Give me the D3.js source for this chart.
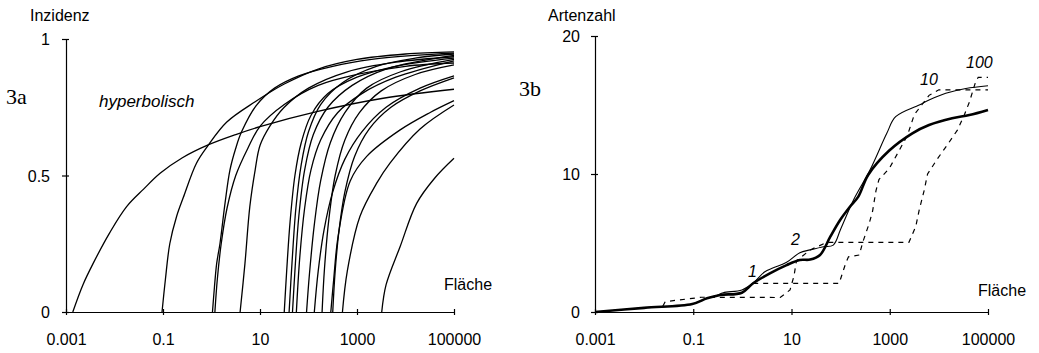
<!DOCTYPE html>
<html><head><meta charset="utf-8">
<script src="https://cdn.jsdelivr.net/npm/d3@7"></script>
<style>
html,body{margin:0;padding:0;background:#fff;}
svg{display:block;}
text{font-family:"Liberation Sans",Arial,sans-serif;fill:#000;}
</style></head>
<body>
<svg id="chart" width="1039" height="353"></svg>
<script>
// ---- Data (Fläche given as log10 exponent, converted to area for the log scale) ----
const xTickValues = [0.001, 0.1, 10, 1000, 100000];
const xTickLabels = ["0.001", "0.1", "10", "1000", "100000"];
const yTicksA = [0, 0.5, 1];
const yTickLabelsA = ["0", "0.5", "1"];
const yTicksB = [0, 10, 20];
const yTickLabelsB = ["0", "10", "20"];

// Panel 3a: incidence curves [log10(Fläche), Inzidenz]
const kurveHyperbolisch = [[-2.86,0],[-2.65,0.1],[-2.44,0.178],[-2.1,0.29],[-1.75,0.386],[-1.4,0.45],[-1.06,0.508],[-0.6,0.565],[-0.07,0.612],[0.5,0.65],[1.0,0.679],[2.17,0.734],[3.54,0.783],[5,0.816]];
const kurveB = [[-1.02,0],[-0.95,0.12],[-0.86,0.25],[-0.72,0.35],[-0.58,0.42],[-0.31,0.545],[-0.07,0.61],[0.31,0.695],[0.9,0.77],[1.5,0.835],[2.2,0.89],[3.0,0.925],[4.0,0.945],[5,0.953]];
const kurveC = [[0.02,0],[0.06,0.09],[0.107,0.178],[0.175,0.251],[0.28,0.4],[0.38,0.52],[0.5,0.6],[0.62,0.66],[0.93,0.758],[1.3,0.82],[1.8,0.865],[2.5,0.9],[3.3,0.925],[4.2,0.94],[5,0.948]];
const kurveD = [[0.07,0],[0.12,0.12],[0.2,0.25],[0.32,0.38],[0.5,0.5],[0.75,0.6],[1.0,0.68],[1.5,0.76],[2.2,0.83],[3,0.87],[4,0.9],[5,0.912]];
const kurveE = [[0.59,0],[0.69,0.178],[0.79,0.386],[0.9,0.52],[1.0,0.61],[1.2,0.68],[1.5,0.75],[2,0.82],[2.8,0.88],[3.8,0.915],[5,0.935]];
const kurveF = [[1.5,0],[1.55,0.15],[1.62,0.33],[1.72,0.5],[1.85,0.62],[2.05,0.72],[2.4,0.8],[3,0.86],[3.8,0.9],[5,0.93]];
const kurveG = [[1.6,0],[1.66,0.18],[1.74,0.38],[1.85,0.54],[2.0,0.66],[2.25,0.76],[2.7,0.84],[3.4,0.9],[4.2,0.93],[5,0.945]];
const kurveH = [[1.67,0],[1.72,0.15],[1.8,0.35],[1.92,0.52],[2.1,0.65],[2.4,0.75],[2.9,0.83],[3.6,0.89],[5,0.94]];
const kurveI = [[1.75,0],[1.82,0.2],[1.92,0.38],[2.05,0.52],[2.25,0.63],[2.6,0.73],[3.1,0.8],[3.8,0.86],[5,0.92]];
const kurveJ = [[1.96,0],[2.02,0.14],[2.12,0.32],[2.25,0.48],[2.45,0.62],[2.75,0.73],[3.2,0.82],[3.9,0.88],[5,0.925]];
const kurveK = [[2.12,0],[2.2,0.15],[2.32,0.3],[2.5,0.44],[2.75,0.56],[3.1,0.66],[3.6,0.75],[4.3,0.82],[5,0.865]];
const kurveL = [[2.28,0],[2.33,0.16],[2.42,0.34],[2.55,0.5],[2.75,0.63],[3.05,0.73],[3.5,0.81],[4.2,0.87],[5,0.905]];
const kurveM = [[2.5,0],[2.55,0.15],[2.63,0.3],[2.75,0.44],[2.95,0.57],[3.25,0.67],[3.7,0.75],[4.3,0.81],[5,0.858]];
const kurveN = [[2.46,0],[2.52,0.12],[2.61,0.276],[2.86,0.48],[3.2,0.57],[3.89,0.667],[4.5,0.73],[5,0.774]];
const kurveO = [[2.70,0],[2.8,0.15],[3.06,0.35],[3.4,0.47],[3.68,0.545],[4.3,0.67],[5,0.758]];
const kurveP = [[3.51,0],[3.6,0.1],[3.89,0.24],[4.23,0.398],[4.6,0.49],[5,0.563]];

// Panel 3b: species number [log10(Fläche), Artenzahl]
const artenDick = [[-3,0],[-2,0.3],[-1.02,0.58],[-0.72,0.99],[-0.45,1.23],[-0.01,1.4],[0.22,2.08],[0.56,2.8],[0.9,3.4],[1.17,3.77],[1.38,3.8],[1.58,4.13],[1.79,5.46],[1.99,6.67],[2.19,7.63],[2.36,8.36],[2.56,9.93],[2.99,11.7],[3.46,12.95],[3.8,13.55],[4.27,14.04],[4.62,14.27],[5,14.64]];
const artenDuenn = [[-3,0],[-2,0.3],[-1.02,0.58],[-0.72,1.0],[-0.52,1.2],[-0.39,1.4],[-0.01,1.6],[0.22,2.1],[0.45,2.9],[0.63,3.2],[0.9,3.6],[1.17,4.3],[1.38,4.5],[1.65,4.73],[1.85,4.85],[2.0,6.0],[2.26,8.1],[2.6,10.3],[2.94,12.95],[3.12,14.15],[3.6,15.0],[3.8,15.36],[4.14,15.85],[4.55,16.2],[5,16.4]];
const artenStufe100 = [[-1.62,0.42],[-1.57,0.75],[-0.83,1.07],[0.77,1.05],[0.97,1.6],[1.05,2.6],[1.1,3.7],[1.38,4.5],[1.72,5.05],[3.39,5.05],[3.53,6.2],[3.6,7.4],[3.7,8.8],[3.77,10],[3.97,11.1],[4.17,12.1],[4.38,13.2],[4.52,14.3],[4.62,15.2],[4.75,16.7],[4.8,17.0],[5.0,17.0]];
const artenStufe10 = [[0.22,2.08],[0.29,2.08],[1.97,2.08],[2.1,3.5],[2.16,4.0],[2.38,4.13],[2.45,5.05],[2.58,6.4],[2.65,7.3],[2.72,8.8],[2.78,9.6],[2.99,10.4],[3.16,11.5],[3.36,12.8],[3.5,14.3],[3.65,15.0],[3.8,15.7],[4.0,16.1],[4.5,16.1],[5.0,16.1]];
const kurvenLabels = [["1",748,277],["2",791,245],["10",920,85],["100",966,68]];

// ---- Drawing ----
const svg = d3.select("#chart");
const toArea = p => [Math.pow(10, p[0]), p[1]];

function panel(opt){
  const x = d3.scaleLog().domain([0.001, 100000]).range([opt.x0, opt.x1]);
  const y = d3.scaleLinear().domain(opt.yDomain).range([312, opt.yTop]);
  const g = svg.append("g");
  const ax = g.append("g").attr("transform","translate(0,312)")
    .call(d3.axisBottom(x).tickValues(xTickValues).tickFormat((d,i)=>xTickLabels[i]).tickSizeInner(3).tickSizeOuter(0));
  ax.select(".domain").attr("stroke","#000").attr("stroke-width",1.2);
  ax.selectAll(".tick line").attr("y1",-3).attr("stroke","#000").attr("stroke-width",1.2);
  ax.selectAll(".tick text").attr("y",33).attr("dy",0).attr("font-size",16).attr("font-family","Liberation Sans, Arial, sans-serif");
  const ay = g.append("g").attr("transform",`translate(${opt.x0},0)`)
    .call(d3.axisLeft(y).tickValues(opt.yTicks).tickFormat((d,i)=>opt.yLabels[i]).tickSizeInner(4).tickSizeOuter(0));
  ay.select(".domain").attr("stroke","#000").attr("stroke-width",1.2);
  ay.selectAll(".tick line").attr("x1",3).attr("stroke","#000").attr("stroke-width",1.2);
  ay.selectAll(".tick text").attr("x",-opt.yLabelGap).attr("dy","0.36em").attr("font-size",16).attr("font-family","Liberation Sans, Arial, sans-serif");
  return {x,y,g};
}

// Panel 3a
const pa = panel({x0:66,x1:454,yTop:39,yDomain:[0,1],yTicks:yTicksA,yLabels:yTickLabelsA,yLabelGap:16});
const lineA = d3.line().x(d=>pa.x(d[0])).y(d=>pa.y(d[1])).curve(d3.curveCatmullRom.alpha(0.5));
const kurvenA = [kurveHyperbolisch,kurveB,kurveC,kurveD,kurveE,kurveF,kurveG,kurveH,kurveI,kurveJ,kurveK,kurveL,kurveM,kurveN,kurveO,kurveP];
pa.g.selectAll("path.k").data(kurvenA).join("path").attr("class","k")
  .attr("d",d=>lineA(d.map(toArea))).attr("fill","none").attr("stroke","#000").attr("stroke-width",1.3);

svg.append("text").attr("x",30).attr("y",21).attr("font-size",16).text("Inzidenz");
svg.append("text").attr("x",6).attr("y",104).attr("font-size",22).style("font-family","Liberation Serif, Times New Roman, serif").text("3a");
svg.append("text").attr("x",99).attr("y",107).attr("font-size",17).attr("font-style","italic").text("hyperbolisch");
svg.append("text").attr("x",444).attr("y",290).attr("font-size",16).text("Fläche");

// Panel 3b
const pb = panel({x0:595,x1:988,yTop:36,yDomain:[0,20],yTicks:yTicksB,yLabels:yTickLabelsB,yLabelGap:15});
const lineB = d3.line().x(d=>pb.x(d[0])).y(d=>pb.y(d[1])).curve(d3.curveCatmullRom.alpha(0.5));
const lineStep = d3.line().x(d=>pb.x(d[0])).y(d=>pb.y(d[1]));
pb.g.append("path").attr("d",lineStep(artenStufe100.map(toArea))).attr("fill","none").attr("stroke","#000").attr("stroke-width",1.2).attr("stroke-dasharray","5,5");
pb.g.append("path").attr("d",lineStep(artenStufe10.map(toArea))).attr("fill","none").attr("stroke","#000").attr("stroke-width",1.2).attr("stroke-dasharray","5,5");
pb.g.append("path").attr("d",lineB(artenDuenn.map(toArea))).attr("fill","none").attr("stroke","#000").attr("stroke-width",1.1);
pb.g.append("path").attr("d",lineB(artenDick.map(toArea))).attr("fill","none").attr("stroke","#000").attr("stroke-width",2.6);

svg.append("text").attr("x",548).attr("y",21).attr("font-size",16).text("Artenzahl");
svg.append("text").attr("x",519).attr("y",96).attr("font-size",22).style("font-family","Liberation Serif, Times New Roman, serif").text("3b");
svg.append("text").attr("x",978).attr("y",296).attr("font-size",16).text("Fläche");
svg.selectAll("text.kl").data(kurvenLabels).join("text").attr("class","kl")
  .attr("x",d=>d[1]).attr("y",d=>d[2]).attr("font-size",16).attr("font-style","italic").text(d=>d[0]);
</script>
</body></html>
